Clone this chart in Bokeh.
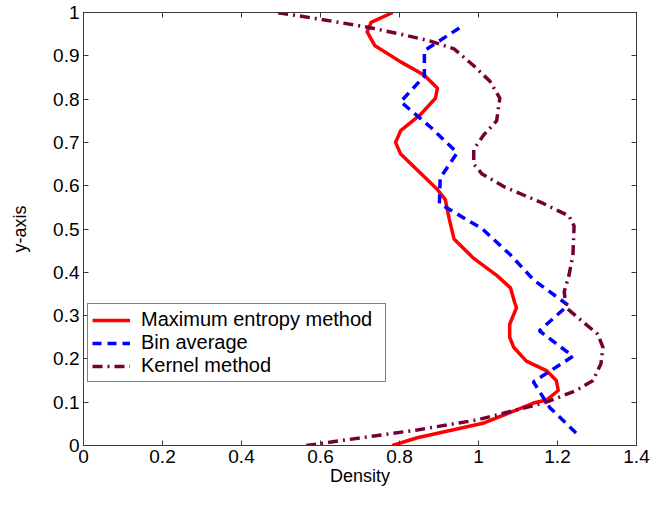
from bokeh.plotting import figure
from bokeh.models import Range1d, FixedTicker, LinearAxis
from bokeh.embed import file_html
from bokeh.resources import INLINE

# ---- data ----
me_x = [0.782, 0.845, 1.014, 1.139, 1.172, 1.202, 1.197, 1.172, 1.121, 1.089, 1.079, 1.079,
        1.096, 1.091, 1.081, 1.046, 0.988, 0.938, 0.926, 0.916, 0.896, 0.845, 0.803, 0.790,
        0.803, 0.853, 0.891, 0.896, 0.863, 0.803, 0.738, 0.718, 0.728, 0.783]
me_y = [0.0, 0.018, 0.052, 0.098, 0.105, 0.127, 0.150, 0.173, 0.195, 0.227, 0.250, 0.280,
        0.318, 0.332, 0.364, 0.393, 0.432, 0.477, 0.523, 0.568, 0.591, 0.636, 0.673, 0.700,
        0.727, 0.764, 0.802, 0.825, 0.855, 0.886, 0.923, 0.955, 0.977, 1.0]

bin_x = [1.247, 1.18, 1.139, 1.239, 1.154, 1.227, 1.14, 1.08, 1.01, 0.901, 0.903, 0.946,
         0.879, 0.803, 0.863, 0.863, 0.963]
bin_y = [0.029, 0.088, 0.147, 0.206, 0.265, 0.324, 0.382, 0.441, 0.500, 0.559, 0.618, 0.676,
         0.735, 0.794, 0.853, 0.912, 0.971]

k_x = [0.564, 0.845, 0.996, 1.096, 1.164, 1.197, 1.247, 1.290, 1.310, 1.315, 1.302, 1.264,
       1.222, 1.217, 1.229, 1.239, 1.242, 1.229, 1.164, 1.064, 1.009, 0.988, 0.988, 1.014,
       1.046, 1.054, 1.029, 0.988, 0.938, 0.878, 0.803, 0.720, 0.602, 0.49]
k_y = [0.0, 0.036, 0.059, 0.082, 0.098, 0.109, 0.127, 0.150, 0.189, 0.227, 0.257, 0.286,
       0.318, 0.355, 0.393, 0.439, 0.507, 0.530, 0.559, 0.598, 0.627, 0.650, 0.684, 0.718,
       0.750, 0.802, 0.841, 0.877, 0.916, 0.934, 0.950, 0.966, 0.984, 1.0]

x_ticks = [0, 0.2, 0.4, 0.6, 0.8, 1.0, 1.2, 1.4]
x_tick_labels = ["0", "0.2", "0.4", "0.6", "0.8", "1", "1.2", "1.4"]
y_ticks = [0, 0.1, 0.2, 0.3, 0.4, 0.5, 0.6, 0.7, 0.8, 0.9, 1.0]
y_tick_labels = ["0", "0.1", "0.2", "0.3", "0.4", "0.5", "0.6", "0.7", "0.8", "0.9", "1"]

series_names = ["Maximum entropy method", "Bin average", "Kernel method"]

FONT = "Liberation Sans"
AX = "#3a3a3a"

p = figure(width=650, height=492, x_range=Range1d(0, 1.4), y_range=Range1d(0, 1),
           output_backend="svg", toolbar_location=None,
           min_border_left=83, min_border_right=14, min_border_top=12, min_border_bottom=47)
p.grid.visible = False
p.outline_line_color = AX
p.outline_line_width = 1
p.background_fill_color = "white"
p.border_fill_color = "white"

p.line(me_x, me_y, line_color="#ff0000", line_width=3.5, line_join="round",
       legend_label=series_names[0])
p.line(bin_x, bin_y, line_color="#0000ff", line_width=3.5, line_dash="9 6",
       legend_label=series_names[1])
p.line(k_x, k_y, line_color="#750037", line_width=3.5, line_dash="10 5 2 5",
       legend_label=series_names[2])

def style_axis(ax, ticks, labels):
    ax.ticker = FixedTicker(ticks=ticks)
    ax.major_label_overrides = dict(zip(ticks, labels))
    ax.major_tick_in = 5
    ax.major_tick_out = 0
    ax.minor_tick_line_color = None
    ax.axis_line_color = AX
    ax.major_tick_line_color = AX
    ax.major_label_text_font = FONT
    ax.major_label_text_font_size = "19px"
    ax.major_label_text_color = "black"
    ax.axis_label_text_font = FONT
    ax.axis_label_text_font_size = "18px"
    ax.axis_label_text_font_style = "normal"
    ax.axis_label_text_color = "black"

style_axis(p.xaxis[0], x_ticks, x_tick_labels)
style_axis(p.yaxis[0], y_ticks, y_tick_labels)
p.xaxis.axis_label = "Density"
p.yaxis.axis_label = "y-axis"
p.xaxis.major_label_standoff = 4
p.xaxis.axis_label_standoff = 0
p.yaxis.major_label_standoff = 4
p.yaxis.axis_label_standoff = 20

for loc, ticks in (("above", x_ticks), ("right", y_ticks)):
    ax = LinearAxis(ticker=FixedTicker(ticks=ticks), major_tick_in=5, major_tick_out=0,
                    minor_tick_line_color=None, axis_line_color=AX, major_tick_line_color=AX,
                    major_label_text_font_size="1px", major_label_text_color=None,
                    major_label_standoff=0)
    p.add_layout(ax, loc)

lg = p.legend[0]
lg.location = (4, 63)
lg.label_text_font = FONT
lg.label_text_font_size = "20px"
lg.label_text_color = "black"
lg.glyph_width = 38
lg.label_standoff = 11
lg.label_width = 240
lg.padding = 4
lg.spacing = 0
lg.label_height = 22
lg.glyph_height = 22
lg.border_line_color = "black"
lg.border_line_width = 1
lg.background_fill_alpha = 1.0
lg.margin = 0

open("out.html", "w").write(file_html(p, INLINE))
